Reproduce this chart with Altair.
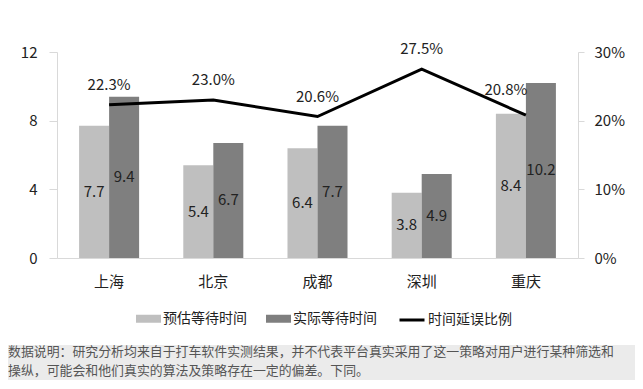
import altair as alt
import pandas as pd

cities = ["上海", "北京", "成都", "深圳", "重庆"]
series_names = ["预估等待时间", "实际等待时间"]
est_wait = [7.7, 5.4, 6.4, 3.8, 8.4]
act_wait = [9.4, 6.7, 7.7, 4.9, 10.2]
delay_ratio = [0.223, 0.230, 0.206, 0.275, 0.208]
line_name = "时间延误比例"
caption = ("数据说明：研究分析均来自于打车软件实测结果，并不代表平台真实采用了这一策略对用户进行某种筛选和\n"
           "操纵，可能会和他们真实的算法及策略存在一定的偏差。下同。")

FONT = "Noto Sans CJK SC"
TXT = "#222222"
AX = "#d9d9d9"

bars_df = pd.DataFrame({
    "city": cities * 2,
    "series": [series_names[0]] * 5 + [series_names[1]] * 5,
    "value": est_wait + act_wait,
})
line_df = pd.DataFrame({"city": cities, "ratio": delay_ratio, "name": [line_name] * 5})
cap_df = pd.DataFrame({"t": [caption]})

xscale = alt.Scale(domain=cities, paddingInner=0.424, paddingOuter=0.212)
xaxis = alt.Axis(title=None, labelAngle=0, ticks=False, labelPadding=16,
                 domainColor=AX, labelFontSize=15, labelColor=TXT)
yleft = alt.Scale(domain=[0, 12], nice=False)
yright = alt.Scale(domain=[0, 0.3], nice=False)
laxis = alt.Axis(title=None, orient="left", values=[0, 4, 8, 12], grid=False, domainColor=AX,
                 tickColor=AX, tickSize=8, labelPadding=12, labelFontSize=15, labelColor=TXT)
raxis = alt.Axis(title=None, orient="right", values=[0, 0.1, 0.2, 0.3], format=".0%", grid=False,
                 domainColor=AX, tickColor=AX, tickSize=6, labelPadding=10,
                 labelFontSize=15, labelColor=TXT)

bars = alt.Chart(bars_df).mark_bar().encode(
    x=alt.X("city:N", scale=xscale, sort=cities, axis=xaxis),
    xOffset=alt.XOffset("series:N", sort=series_names, scale=alt.Scale(domain=series_names, paddingInner=0, paddingOuter=0)),
    y=alt.Y("value:Q", scale=yleft, axis=laxis),
    color=alt.Color("series:N", sort=series_names,
                    scale=alt.Scale(domain=series_names, range=["#bfbfbf", "#7f7f7f"]),
                    legend=alt.Legend(orient="none", legendX=79, legendY=254, direction="horizontal",
                                      title=None, symbolType="M-1,-0.32H1V0.32H-1Z", symbolSize=625,
                                      symbolStrokeWidth=0, labelFontSize=14, labelColor=TXT,
                                      labelOffset=2, columnPadding=19, padding=0)),
)
bar_text = alt.Chart(bars_df).transform_calculate(mid="datum.value / 2").mark_text(
    fontSize=15, color=TXT, baseline="middle").encode(
    x=alt.X("city:N", scale=xscale, sort=cities, axis=xaxis),
    xOffset=alt.XOffset("series:N", sort=series_names),
    y=alt.Y("mid:Q", scale=yleft, axis=laxis),
    text=alt.Text("value:Q", format=".1f"),
)
left = alt.layer(bars, bar_text)

line = alt.Chart(line_df).mark_line(strokeWidth=3).encode(
    x=alt.X("city:N", scale=xscale, sort=cities, axis=xaxis),
    y=alt.Y("ratio:Q", scale=yright, axis=raxis),
    stroke=alt.Stroke("name:N", scale=alt.Scale(range=["#000000"]),
                      legend=alt.Legend(orient="none", legendX=341, legendY=254, title=None,
                                        symbolType="stroke", symbolSize=625, symbolStrokeWidth=3,
                                        labelFontSize=14, labelColor=TXT, labelOffset=2, padding=0)),
)
line_text = alt.Chart(line_df).transform_filter("datum.city != '重庆'").mark_text(
    fontSize=15, color=TXT, dy=-20).encode(
    x=alt.X("city:N", scale=xscale, sort=cities, axis=xaxis),
    y=alt.Y("ratio:Q", scale=yright, axis=raxis),
    text=alt.Text("ratio:Q", format=".1%"),
)
line_text2 = alt.Chart(line_df).transform_filter("datum.city == '重庆'").mark_text(
    fontSize=15, color=TXT, dy=-25, dx=-20).encode(
    x=alt.X("city:N", scale=xscale, sort=cities, axis=xaxis),
    y=alt.Y("ratio:Q", scale=yright, axis=raxis),
    text=alt.Text("ratio:Q", format=".1%"),
)
right = alt.layer(line, line_text, line_text2)

main = alt.layer(left, right).resolve_scale(y="independent")

strip = alt.Chart(cap_df).mark_rect(color="#ebebeb").encode(
    x=alt.value(-49), x2=alt.value(580), y=alt.value(293), y2=alt.value(330))
cap = alt.Chart(cap_df).mark_text(align="left", baseline="top", fontSize=12.9, color="#555555",
                                  lineBreak="\n", lineHeight=19).encode(
    x=alt.value(-49), y=alt.value(294), text="t:N")

chart = alt.layer(strip, main, cap).properties(
    width=521, height=206,
    autosize=alt.AutoSizeParams(type="none"),
    padding={"left": 49, "top": 44, "right": 57, "bottom": 122},
    background="white",
).configure(font=FONT).configure_view(stroke=None)

chart.save("out.html", embed_options={"renderer": "svg", "actions": False})
